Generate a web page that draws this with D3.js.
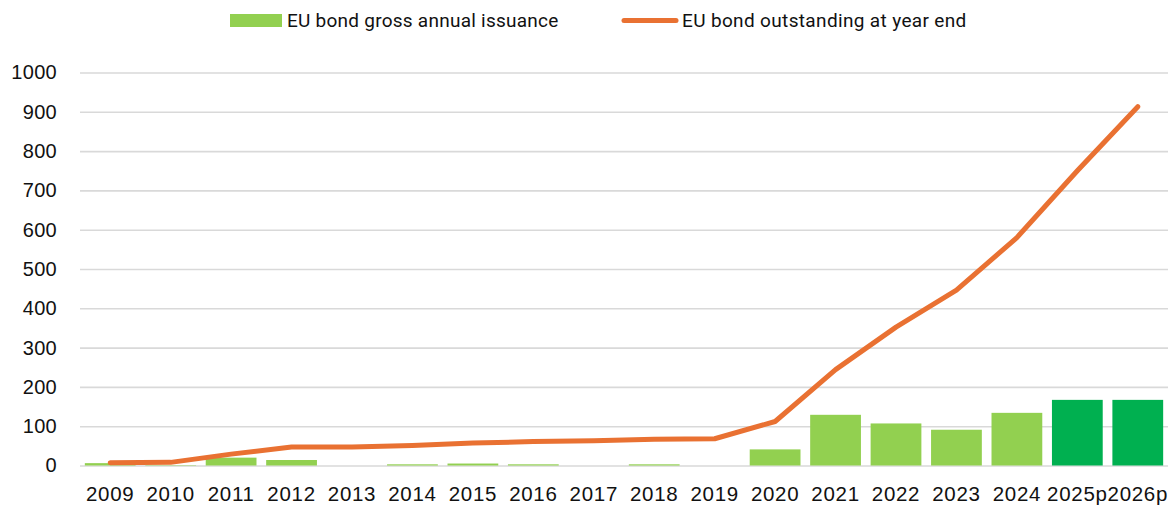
<!DOCTYPE html>
<html>
<head>
<meta charset="utf-8">
<script src="https://cdn.jsdelivr.net/npm/d3@7"></script>
<style>
  html, body { margin: 0; padding: 0; background: #fff; }
  svg { display: block; font-family: Roboto, "Noto Sans", sans-serif; }
</style>
</head>
<body>
<svg id="chart" width="1172" height="509"></svg>
<script>
// Years on the category axis (p = projection)
const years = ["2009", "2010", "2011", "2012", "2013", "2014", "2015", "2016", "2017",
               "2018", "2019", "2020", "2021", "2022", "2023", "2024", "2025p", "2026p"];
// EU bond gross annual issuance (EUR bn)
const issuance = [6, 1, 20, 14, 0, 3, 5, 3, 0, 3, 0, 41, 129, 107, 91, 134, 167, 167];
// EU bond outstanding at year end (EUR bn)
const outstanding = [7, 8, 29, 47, 47, 51, 57, 61, 63, 67, 68, 112, 244, 352, 446, 580, 750, 913];
// Y-axis ticks
const yTicks = [0, 100, 200, 300, 400, 500, 600, 700, 800, 900, 1000];
// Projected years get the darker bar colour
const projected = ["2025p", "2026p"];

const seriesNames = ["EU bond gross annual issuance", "EU bond outstanding at year end"];

const plot = { left: 80, right: 1168, top: 72.5, bottom: 465.5 };

const svg = d3.select("#chart");

const x = d3.scaleBand()
  .domain(years)
  .range([plot.left, plot.right])
  .paddingInner(0.16)
  .paddingOuter(0.08);

const y = d3.scaleLinear()
  .domain([0, 1000])
  .range([plot.bottom, plot.top]);

// Horizontal gridlines and y labels
const yAxis = svg.append("g")
  .attr("transform", `translate(${plot.left},0)`)
  .call(d3.axisLeft(y).tickValues(yTicks).tickSize(-(plot.right - plot.left)).tickPadding(22).tickFormat(d3.format("d")));
yAxis.select(".domain").remove();
yAxis.selectAll(".tick line").attr("stroke", "#d9d9d9").attr("stroke-width", 1.6);
yAxis.selectAll(".tick text")
  .attr("fill", "#111")
  .style("font-size", "20px")
  .style("letter-spacing", "0.3px")
  .attr("x", -23);

// Bars: gross annual issuance
const rows = years.map((yr, i) => ({ yr, iss: issuance[i], out: outstanding[i] }));

svg.append("g")
  .selectAll("rect")
  .data(rows)
  .join("rect")
  .attr("x", d => x(d.yr))
  .attr("width", x.bandwidth())
  .attr("y", d => y(d.iss))
  .attr("height", d => y(0) - y(d.iss))
  .attr("fill", d => projected.includes(d.yr) ? "#00B050" : "#92D050");

// Line: outstanding at year end
const line = d3.line()
  .x(d => x(d.yr) + x.bandwidth() / 2)
  .y(d => y(d.out));

svg.append("path")
  .datum(rows)
  .attr("d", line)
  .attr("fill", "none")
  .attr("stroke", "#E97132")
  .attr("stroke-width", 5)
  .attr("stroke-linecap", "round")
  .attr("stroke-linejoin", "round");

// X labels
const xAxis = svg.append("g")
  .attr("transform", `translate(0,${plot.bottom})`)
  .call(d3.axisBottom(x).tickSize(0).tickPadding(21));
xAxis.select(".domain").remove();
xAxis.selectAll(".tick text")
  .attr("fill", "#111")
  .style("font-size", "20.5px")
  .style("letter-spacing", "0.7px");

// Legend
const legend = svg.append("g");
legend.append("rect")
  .attr("x", 230).attr("y", 14).attr("width", 52).attr("height", 13)
  .attr("fill", "#92D050");
legend.append("text")
  .attr("x", 287).attr("y", 27)
  .attr("fill", "#111")
  .style("font-size", "19px")
  .style("letter-spacing", "0.25px")
  .text(seriesNames[0]);
legend.append("line")
  .attr("x1", 624).attr("x2", 676).attr("y1", 20.5).attr("y2", 20.5)
  .attr("stroke", "#E97132").attr("stroke-width", 5).attr("stroke-linecap", "round");
legend.append("text")
  .attr("x", 682).attr("y", 27)
  .attr("fill", "#111")
  .style("font-size", "19px")
  .style("letter-spacing", "0.35px")
  .text(seriesNames[1]);
</script>
</body>
</html>
